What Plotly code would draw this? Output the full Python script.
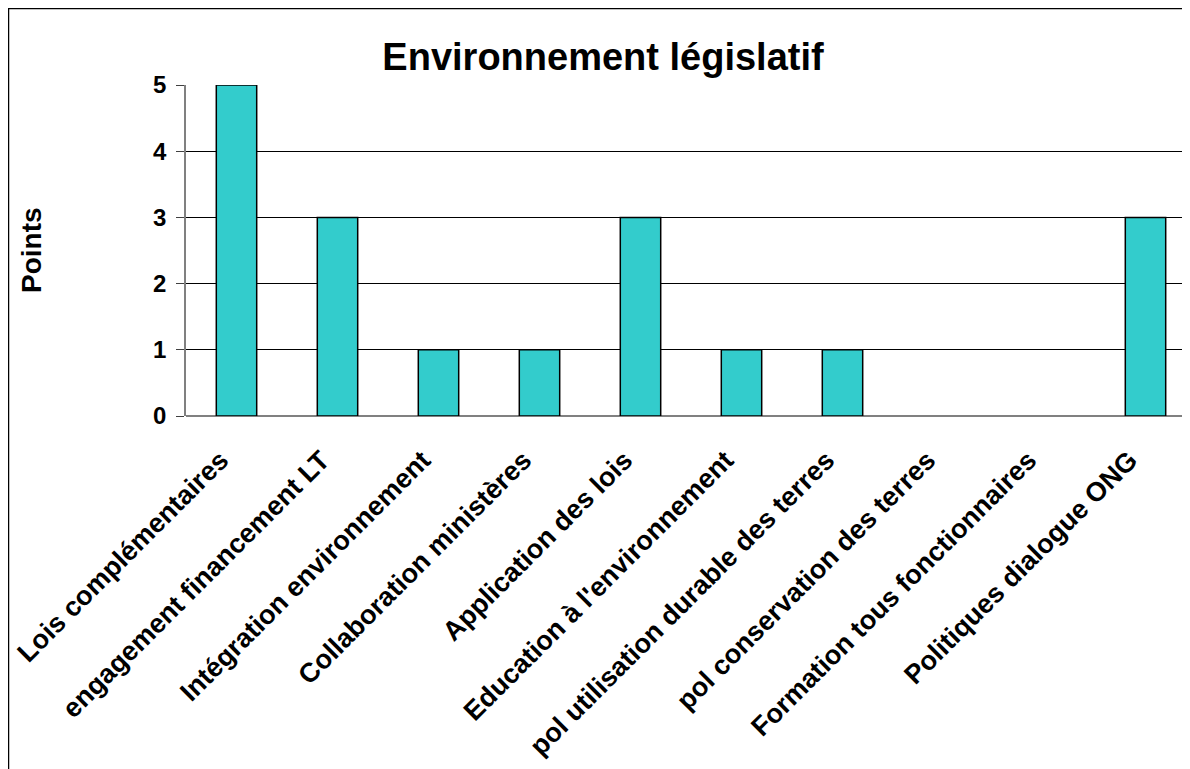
import plotly.graph_objects as go

categories = ["Lois complémentaires", "engagement financement LT", "Intégration environnement",
              "Collaboration ministères", "Application des lois", "Education à l'environnement",
              "pol utilisation durable des terres", "pol conservation des terres",
              "Formation tous fonctionnaires", "Politiques dialogue ONG"]
points = [5, 3, 1, 1, 3, 1, 1, 0, 0, 3]
y_ticks = [0, 1, 2, 3, 4, 5]

# page has an 8px body margin; figure coords = page coords - 8
OFF = 8
W, H = 1190, 769
L, T = 186 - OFF, 85 - OFF
R = W - (1196 - OFF)
B = H - (416 - OFF)
pw, ph = W - L - R, H - T - B

FONT = "Arial, Liberation Sans, sans-serif"

fig = go.Figure(go.Bar(
    x=categories, y=points,
    marker=dict(color="#33CCCC",
                line=dict(color="black", width=[1.5 if v else 0 for v in points])),
))

fig.update_layout(
    width=W, height=H,
    margin=dict(l=L, r=R, t=T, b=B),
    paper_bgcolor="white", plot_bgcolor="white",
    font=dict(family=FONT, color="black"),
    title=dict(text="<b>Environnement législatif</b>", x=(603 - OFF) / W, xanchor="center",
               y=1 - (57 - OFF) / H, yanchor="middle", font=dict(size=38)),
    showlegend=False,
    bargap=0.6,
)
fig.update_xaxes(
    tickangle=-45, tickfont=dict(size=27, family=FONT),
    showline=False, showgrid=False, ticks="",
    tickprefix="<b>", ticksuffix="</b>",
    ticklabelstandoff=22, ticklabelshift=-16,
)
fig.update_yaxes(
    range=[0, 5], tickvals=y_ticks, ticktext=[f"<b>{v}</b>" for v in y_ticks],
    tickfont=dict(size=24), showgrid=True, gridcolor="black", gridwidth=1,
    showline=True, linecolor="#808080", linewidth=1.5,
    ticks="outside", ticklen=8, tickcolor="#404040",
    zeroline=True, zerolinecolor="#808080", zerolinewidth=2,
    ticklabelstandoff=5,
)
fig.add_annotation(text="<b>Points</b>", textangle=-90, xref="paper", yref="paper",
                   x=(31 - 186) / pw, y=(416 - 250) / ph, xanchor="center", yanchor="middle",
                   showarrow=False, font=dict(size=28))
fig.add_shape(type="rect", xref="paper", yref="paper",
              x0=(0.5 - L) / pw, x1=1.05, y0=-1.5, y1=1 + (T - 0.5) / ph,
              line=dict(color="black", width=1.5), fillcolor="rgba(0,0,0,0)", layer="above")

fig.write_html("out.html")
